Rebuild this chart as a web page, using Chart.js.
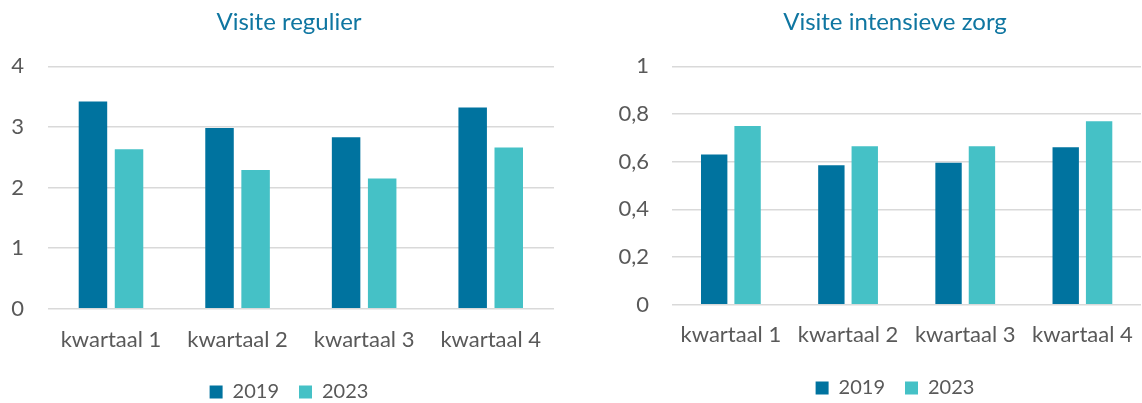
<!DOCTYPE html>
<html>
<head>
<meta charset="utf-8">
<script src="https://cdn.jsdelivr.net/npm/chart.js@4"></script>
<style>
  html, body { margin: 0; padding: 0; background: #fff; overflow: hidden; }
  body { width: 1142px; height: 403px; position: relative; }
  .panel { position: absolute; top: 0; }
  #left { left: 0; width: 578px; height: 412px; }
  #right { left: 600px; width: 590px; height: 408px; }
</style>
</head>
<body>
<div class="panel" id="left"><canvas id="regulierChart"></canvas></div>
<div class="panel" id="right"><canvas id="intensiefChart"></canvas></div>
<script>
const quarters = ['kwartaal 1', 'kwartaal 2', 'kwartaal 3', 'kwartaal 4'];
const seriesNames = ['2019', '2023'];

const regulier2019 = [3.42, 2.98, 2.83, 3.32];
const regulier2023 = [2.63, 2.29, 2.15, 2.66];

const intensief2019 = [0.63, 0.585, 0.595, 0.66];
const intensief2023 = [0.75, 0.665, 0.665, 0.77];

const DARK = '#00739f';
const TEAL = '#45c1c6';
const GREY_TEXT = '#595959';
const FONT = 'Lato';

// Dutch decimal comma for tick labels
function commaTick(value) {
  const v = Math.round(value * 10) / 10;
  return String(v).replace('.', ',');
}

// yAxisWidth: room left of the plot, rightGap: empty room right of the plot
function renderChart(canvasId, title, data2019, data2023, yMax, yStep, yAxisWidth, yLabelPad, rightGap, xLabelPad) {
  const ctx = document.getElementById(canvasId).getContext('2d');
  new Chart(ctx, {
    type: 'bar',
    data: {
      labels: quarters,
      datasets: [
        { label: seriesNames[0], data: data2019, backgroundColor: DARK, barPercentage: 0.79, categoryPercentage: 0.57 },
        { label: seriesNames[1], data: data2023, backgroundColor: TEAL, barPercentage: 0.79, categoryPercentage: 0.57 },
      ],
    },
    options: {
      responsive: true,
      maintainAspectRatio: false,
      animation: false,
      layout: { padding: 0 },
      plugins: {
        title: {
          display: true,
          text: title,
          color: '#0f76a1',
          font: { family: FONT, size: 24, weight: 'normal', lineHeight: 1.2 },
          padding: { top: 7.6, bottom: 29.9 },
        },
        legend: {
          position: 'bottom',
          labels: {
            color: GREY_TEXT,
            font: { family: FONT, size: 20 },
            boxWidth: 13,
            boxHeight: 13,
            padding: 20,
          },
        },
        tooltip: { enabled: false },
      },
      scales: {
        x: {
          grid: { display: false },
          border: { display: false },
          ticks: { color: GREY_TEXT, font: { family: FONT, size: 22 }, padding: xLabelPad, maxRotation: 0 },
          afterFit: (scale) => { scale.height = 53.3; },
        },
        y: {
          min: 0,
          max: yMax,
          grid: { color: '#d9d9d9', lineWidth: 1.5, drawTicks: false },
          border: { display: false },
          ticks: {
            stepSize: yStep,
            color: GREY_TEXT,
            font: { family: FONT, size: 22 },
            padding: yLabelPad,
            callback: commaTick,
          },
          afterFit: (scale) => { scale.width = yAxisWidth; },
        },
        // empty axis on the right, only keeps the plot narrower than the title/legend area
        spacer: {
          type: 'linear',
          position: 'right',
          grid: { display: false },
          border: { display: false },
          ticks: { display: false },
          afterFit: (scale) => { scale.width = rightGap; },
        },
      },
    },
  });
}

renderChart('regulierChart', 'Visite regulier', regulier2019, regulier2023, 4, 1, 47.7, 23.7, 24, 10.5);
renderChart('intensiefChart', 'Visite intensieve zorg', intensief2019, intensief2023, 1, 0.2, 72.3, 23.3, 49, 8.6);
</script>
</body>
</html>
